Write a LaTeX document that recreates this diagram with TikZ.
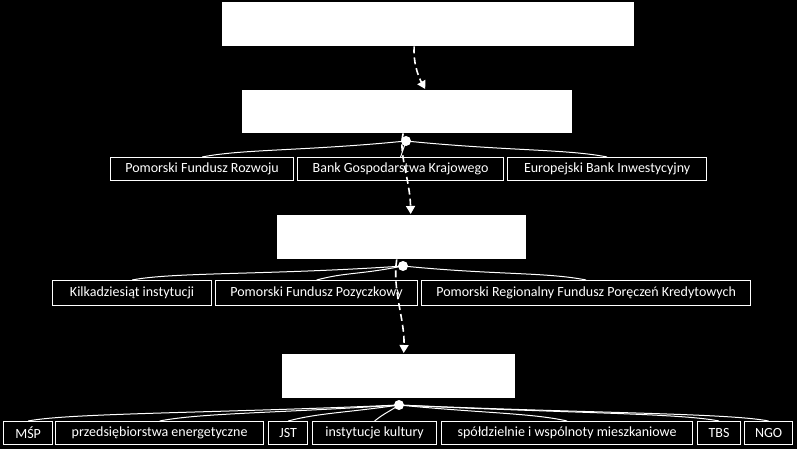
\documentclass[tikz,border=0pt]{standalone}
\usepackage{fontspec}
\setmainfont{Carlito}
\usetikzlibrary{arrows.meta,calc}
\begin{document}
\begin{tikzpicture}[x=1pt,y=-1pt,
  bigbox/.style={fill=white, draw=none, anchor=north west, inner sep=0pt},
  smallbox/.style={draw=white, line width=1.2pt, text=white, anchor=north west, inner sep=0pt,
    font=\fontsize{14}{16}\selectfont},
  tree/.style={draw=white, line width=1pt},
  dotnode/.style={circle, fill=white, minimum size=10pt, inner sep=0pt},
  flow/.style={draw=white, line width=1.6pt, dash pattern=on 7pt off 4pt, -{Triangle[length=8pt,width=9pt]}}]
\fill[black] (0,0) rectangle (797,449);
\useasboundingbox (0,0) rectangle (797,449);

% big boxes
\node[bigbox, minimum width=412pt, minimum height=44pt] (b1) at (222,2) {};
\node[bigbox, minimum width=330pt, minimum height=43pt] (b2) at (242,90) {};
\node[bigbox, minimum width=249pt, minimum height=44pt] (b3) at (277,215) {};
\node[bigbox, minimum width=233pt, minimum height=44pt] (b4) at (282,354) {};

% row 1
\node[smallbox, minimum width=183pt, minimum height=23pt] (r1a) at (110,157) {Pomorski Fundusz Rozwoju};
\node[smallbox, minimum width=206pt, minimum height=23pt] (r1b) at (297,157) {Bank Gospodarstwa Krajowego};
\node[smallbox, minimum width=199pt, minimum height=23pt] (r1c) at (507,157) {Europejski Bank Inwestycyjny};

% row 2
\node[smallbox, minimum width=159pt, minimum height=25pt] (r2a) at (52,280) {Kilkadziesiąt instytucji};
\node[smallbox, minimum width=202pt, minimum height=25pt] (r2b) at (215,280) {Pomorski Fundusz Pozyczkowy};
\node[smallbox, minimum width=329pt, minimum height=25pt] (r2c) at (421,280) {Pomorski Regionalny Fundusz Poręczeń Kredytowych};

% row 3
\node[smallbox, minimum width=49pt, minimum height=23pt] (r3a) at (3,421) {MŚP};
\node[smallbox, minimum width=208pt, minimum height=23pt] (r3b) at (55,421) {przedsiębiorstwa energetyczne};
\node[smallbox, minimum width=39pt, minimum height=23pt] (r3c) at (268,421) {JST};
\node[smallbox, minimum width=124pt, minimum height=23pt] (r3d) at (312,421) {instytucje kultury};
\node[smallbox, minimum width=251pt, minimum height=23pt] (r3e) at (441,421) {spółdzielnie i wspólnoty mieszkaniowe};
\node[smallbox, minimum width=43pt, minimum height=23pt] (r3f) at (697,421) {TBS};
\node[smallbox, minimum width=48pt, minimum height=23pt] (r3g) at (744,421) {NGO};

% dots positions
\coordinate (d1c) at (406,141);
\coordinate (d2c) at (403,266);
\coordinate (d3c) at (399,405);

% tree connectors
\draw[tree] (d1c) .. controls +(-100,10) and +(40,-8) .. (r1a.north);
\draw[tree] (d1c) -- (r1b.north);
\draw[tree] (d1c) .. controls +(100,10) and +(-40,-8) .. (r1c.north);

\draw[tree] (d2c) .. controls +(-130,9) and +(40,-8) .. (r2a.north);
\draw[tree] (d2c) .. controls +(-45,9) and +(30,-8) .. (r2b.north);
\draw[tree] (d2c) .. controls +(90,9) and +(-40,-8) .. (r2c.north);

\draw[tree] (d3c) .. controls +(-180,8) and +(40,-8) .. (r3a.north);
\draw[tree] (d3c) .. controls +(-120,8) and +(40,-8) .. (r3b.north);
\draw[tree] (d3c) .. controls +(-55,8) and +(30,-8) .. (r3c.north);
\draw[tree] (d3c) .. controls +(-12,8) and +(10,-8) .. (r3d.north);
\draw[tree] (d3c) .. controls +(80,8) and +(-35,-8) .. (r3e.north);
\draw[tree] (d3c) .. controls +(160,8) and +(-40,-8) .. (r3f.north);
\draw[tree] (d3c) .. controls +(180,8) and +(-40,-8) .. (r3g.north);

% flow arrows
\coordinate (a1s) at ($(b1.south)+(-14,0)$);
\coordinate (a1e) at ($(b2.north)+(18,-1)$);
\coordinate (a2s) at ($(b2.south)+(-4,0)$);
\coordinate (a2e) at ($(b3.north)+(9,-1)$);
\coordinate (a3s) at ($(b3.south)+(-5,0)$);
\coordinate (a3e) at ($(b4.north)+(5,-1)$);
\draw[flow] (a1s) .. controls (413,62) and (418,76) .. (a1e);
\draw[flow] (a2s) .. controls (398,152) and (410,180) .. (a2e);
\draw[flow] (a3s) .. controls (392,290) and (405,320) .. (a3e);

% dots
\node[dotnode] (d1) at (d1c) {};
\node[dotnode] (d2) at (d2c) {};
\node[dotnode] (d3) at (d3c) {};
\end{tikzpicture}
\end{document}
